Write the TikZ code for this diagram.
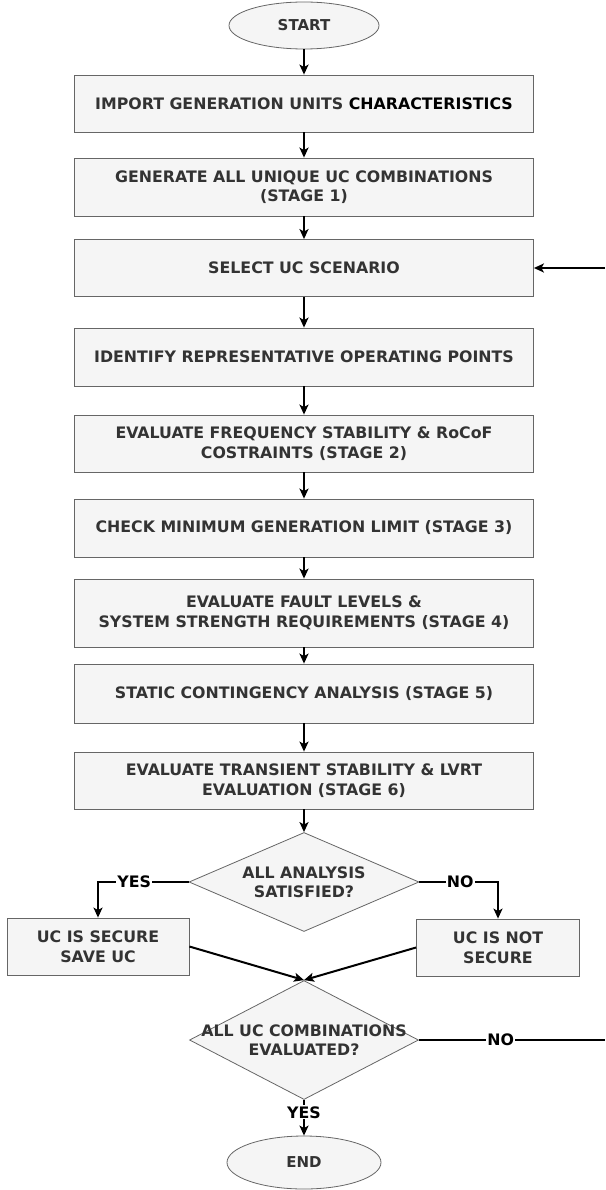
\documentclass[tikz,border=0pt]{standalone}
\usepackage{fontspec}
\setmainfont{DejaVu Sans}
\usetikzlibrary{shapes.geometric, arrows.meta}
\definecolor{boxfill}{HTML}{F5F5F5}
\definecolor{boxline}{HTML}{666666}
\definecolor{txtgray}{HTML}{333333}
\begin{document}
\begin{tikzpicture}[x=1pt,y=-1pt,
  every node/.style={font=\bfseries\fontsize{15.8}{19.5}\selectfont},
  box/.style={draw=boxline, fill=boxfill, line width=0.8pt, text=txtgray, align=center, inner sep=0pt},
  mainbox/.style={box, minimum width=459pt},
  term/.style={ellipse, draw=boxline, fill=boxfill, line width=0.8pt, text=txtgray, inner sep=0pt},
  dia/.style={diamond, draw=boxline, fill=boxfill, line width=0.8pt, inner sep=0pt},
  dialbl/.style={align=center, text=txtgray},
  arr/.style={line width=2pt, -{Stealth[length=10pt,width=9pt,inset=2.5pt]}},
  plain/.style={line width=2pt},
  lbl/.style={fill=white, inner sep=1pt, text=black}]
\useasboundingbox (0,0) rectangle (605,1190);

\node[term, minimum width=150pt, minimum height=47pt, font=\bfseries\fontsize{15}{18}\selectfont] (start) at (304,25.5) {START};
\node[mainbox, minimum height=57pt] (b1) at (304,103.5) {IMPORT GENERATION UNITS \textcolor{black}{CHARACTERISTICS}};
\node[mainbox, minimum height=58pt] (b2) at (304,187) {GENERATE ALL UNIQUE UC COMBINATIONS\\(STAGE 1)};
\node[mainbox, minimum height=57pt] (b3) at (304,268) {SELECT UC SCENARIO};
\node[mainbox, minimum height=58pt] (b4) at (304,357) {IDENTIFY REPRESENTATIVE OPERATING POINTS};
\node[mainbox, minimum height=57pt] (b5) at (304,443.5) {EVALUATE FREQUENCY STABILITY \& RoCoF\\COSTRAINTS (STAGE 2)};
\node[mainbox, minimum height=58pt] (b6) at (304,528) {CHECK MINIMUM GENERATION LIMIT (STAGE 3)};
\node[mainbox, minimum height=68pt] (b7) at (304,613) {EVALUATE FAULT LEVELS \&\\SYSTEM STRENGTH REQUIREMENTS (STAGE 4)};
\node[mainbox, minimum height=59pt] (b8) at (304,693.5) {STATIC CONTINGENCY ANALYSIS (STAGE 5)};
\node[mainbox, minimum height=57pt] (b9) at (304,780.5) {EVALUATE TRANSIENT STABILITY \& LVRT\\EVALUATION (STAGE 6)};

\node[dia, minimum width=230pt, minimum height=99pt,
  label={[dialbl]center:ALL ANALYSIS\\SATISFIED?}] (d1) at (304,882) {};
\node[box, minimum width=182pt, minimum height=57pt] (sec) at (98,946.5) {UC IS SECURE\\SAVE UC};
\node[box, minimum width=163pt, minimum height=57pt] (nsec) at (498,947.5) {UC IS NOT\\SECURE};
\node[dia, minimum width=229pt, minimum height=119pt,
  label={[dialbl]center:ALL UC COMBINATIONS\\EVALUATED?}] (d2) at (304,1040) {};
\node[term, minimum width=154pt, minimum height=53pt, font=\bfseries\fontsize{15}{18}\selectfont] (end) at (304,1162.5) {END};

\coordinate (loopin) at (605,268);
\coordinate (loopout) at (605,1040);

\draw[arr] (start) -- (b1);
\draw[arr] (b1) -- (b2);
\draw[arr] (b2) -- (b3);
\draw[arr] (b3) -- (b4);
\draw[arr] (b4) -- (b5);
\draw[arr] (b5) -- (b6);
\draw[arr] (b6) -- (b7);
\draw[arr] (b7) -- (b8);
\draw[arr] (b8) -- (b9);
\draw[arr] (b9) -- (d1);
\draw[arr] (d1.west) -| node[lbl, pos=0.3] {YES} (sec.north);
\draw[arr] (d1.east) -| node[lbl, pos=0.26] {NO} (nsec.north);
\draw[arr] (sec.east) -- (d2.north);
\draw[arr] (nsec.west) -- (d2.north);
\draw[plain] (d2.east) -- node[lbl, pos=0.44] {NO} (loopout);
\draw[arr] (loopin) -- (b3.east);
\draw[arr] (d2.south) -- node[lbl, pos=0.35] {YES} (end.north);
\end{tikzpicture}
\end{document}
